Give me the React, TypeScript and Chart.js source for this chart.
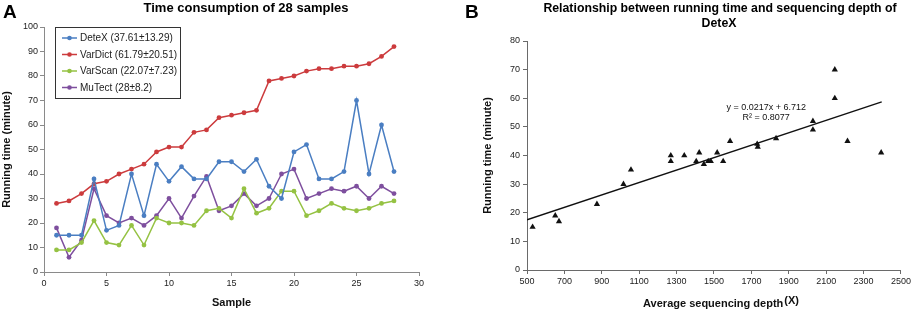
import React, { useEffect, useRef } from "react";
import { Chart, registerables } from "chart.js";
Chart.register(...registerables);

const FONT = '"Liberation Sans", Arial, Helvetica, sans-serif';

// ---- Panel A data ----
const samples = [1, 2, 3, 4, 5, 6, 7, 8, 9, 10, 11, 12, 13, 14, 15, 16, 17, 18, 19, 20, 21, 22, 23, 24, 25, 26, 27, 28];
const detex = [15, 15, 15, 38, 17, 19, 40, 23, 44, 37, 43, 38, 38, 45, 45, 41, 46, 35, 30, 49, 52, 38, 38, 41, 70, 40, 60, 41];
const vardict = [28, 29, 32, 36, 37, 40, 42, 44, 49, 51, 51, 57, 58, 63, 64, 65, 66, 78, 79, 80, 82, 83, 83, 84, 84, 85, 88, 92];
const varscan = [9, 9, 12, 21, 12, 11, 19, 11, 22, 20, 20, 19, 25, 26, 22, 34, 24, 26, 33, 33, 23, 25, 28, 26, 25, 26, 28, 29];
const mutect = [18, 6, 13, 34, 23, 20, 22, 19, 23, 30, 22, 31, 39, 25, 27, 32, 27, 30, 40, 42, 30, 32, 34, 33, 35, 30, 35, 32];
const seriesLabels = ["DeteX (37.61±13.29)", "VarDict (61.79±20.51)", "VarScan (22.07±7.23)", "MuTect (28±8.2)"];
const seriesColors = ["#4A7EC2", "#CC3B3D", "#95C243", "#7E4F9E"];
const titleA = "Time consumption of 28 samples";

// ---- Panel B data ----
const depth = [530, 651, 671, 874, 1016, 1056, 1269, 1269, 1341, 1405, 1421, 1446, 1469, 1483, 1517, 1549, 1586, 1731, 1734, 1832, 2029, 2029, 2146, 2146, 2214, 2394];
const depthTime = [15, 19, 17, 23, 30, 35, 40, 38, 40, 38, 41, 37, 38, 38, 41, 38, 45, 44, 43, 46, 52, 49, 70, 60, 45, 41];
const slope = 0.0217;
const intercept = 6.712;
const fitRange = [500, 2397];
const eqText = "y = 0.0217x + 6.712";
const r2Text = "R² = 0.8077";
const titleB = ["Relationship between running time and sequencing depth of", "DeteX"];

const AXIS_A = "#8a8a8a";
const AXIS_B = "#6a6a6a";
const TICK_COLOR = "#222";
const plainTick = (v: any) => String(v);

const leftDecor = {
  id: "leftDecor",
  afterDraw(chart: any) {
    const ctx = chart.ctx;
    ctx.save();
    ctx.fillStyle = "#000";
    ctx.textBaseline = "alphabetic";
    ctx.textAlign = "left";
    ctx.font = `bold 19px ${FONT}`;
    ctx.fillText("A", 3, 18);
    ctx.font = `bold 13px ${FONT}`;
    ctx.textAlign = "center";
    ctx.fillText(titleA, 246, 12);
    // legend box
    const bx = 55.5, by = 27.5, bw = 125, bh = 71;
    ctx.fillStyle = "#fff";
    ctx.fillRect(bx, by, bw, bh);
    ctx.strokeStyle = "#333";
    ctx.lineWidth = 1;
    ctx.strokeRect(bx, by, bw, bh);
    ctx.font = `10px ${FONT}`;
    ctx.textAlign = "left";
    ctx.textBaseline = "middle";
    for (let i = 0; i < seriesLabels.length; i++) {
      const y = 38 + i * 16.5;
      ctx.strokeStyle = seriesColors[i];
      ctx.lineWidth = 1.5;
      ctx.beginPath();
      ctx.moveTo(62, y);
      ctx.lineTo(77, y);
      ctx.stroke();
      ctx.fillStyle = seriesColors[i];
      ctx.beginPath();
      ctx.arc(69.5, y, 2.3, 0, Math.PI * 2);
      ctx.fill();
      ctx.fillStyle = "#222";
      ctx.fillText(seriesLabels[i], 80, y + 0.5);
    }
    ctx.restore();
  },
};

const rightDecor = {
  id: "rightDecor",
  afterDraw(chart: any) {
    const ctx = chart.ctx;
    const xs = chart.scales.x;
    const ys = chart.scales.y;
    ctx.save();
    ctx.fillStyle = "#000";
    ctx.textBaseline = "alphabetic";
    ctx.textAlign = "left";
    ctx.font = `bold 19px ${FONT}`;
    ctx.fillText("B", 5, 18);
    ctx.font = `bold 12.3px ${FONT}`;
    ctx.textAlign = "center";
    ctx.fillText(titleB[0], 260, 12);
    ctx.fillText(titleB[1], 259, 27);
    // equation
    ctx.font = `9px ${FONT}`;
    ctx.fillStyle = "#111";
    ctx.textBaseline = "middle";
    const ex = xs.getPixelForValue(1779);
    ctx.fillText(eqText, ex, ys.getPixelForValue(56.9));
    ctx.fillText(r2Text, ex, ys.getPixelForValue(53.1));
    // x-axis title with raised (X)
    ctx.font = `bold 11px ${FONT}`;
    ctx.textBaseline = "alphabetic";
    ctx.textAlign = "left";
    const main = "Average sequencing depth";
    const sup = "(X)";
    const w1 = ctx.measureText(main).width;
    const w2 = ctx.measureText(sup).width + 1;
    const start = 261 - (w1 + w2) / 2;
    ctx.fillStyle = "#111";
    ctx.fillText(main, start, 307);
    ctx.fillText(sup, start + w1 + 1, 304);
    ctx.restore();
  },
};

export default function App() {
  const leftRef = useRef<HTMLCanvasElement>(null);
  const rightRef = useRef<HTMLCanvasElement>(null);

  useEffect(() => {
    const series = [detex, vardict, varscan, mutect];
    const left = new Chart(leftRef.current as HTMLCanvasElement, {
      type: "line",
      data: {
        datasets: series.map((vals, i) => ({
          label: seriesLabels[i],
          data: samples.map((s, j) => ({ x: s, y: vals[j] })),
          borderColor: seriesColors[i],
          backgroundColor: seriesColors[i],
          borderWidth: 1.5,
          pointRadius: 2.4,
          pointBorderWidth: 0,
          pointHoverRadius: 2.4,
          tension: 0,
        })),
      },
      options: {
        responsive: false,
        animation: false,
        devicePixelRatio: 1,
        layout: { padding: { top: 27, right: 41, left: 0, bottom: 0 } },
        plugins: { legend: { display: false }, tooltip: { enabled: false }, title: { display: false } },
        scales: {
          x: {
            type: "linear",
            min: 0,
            max: 30,
            ticks: { stepSize: 5, color: TICK_COLOR, font: { family: FONT, size: 9 }, padding: 2, callback: plainTick },
            grid: { drawOnChartArea: false, drawTicks: true, tickLength: 4, color: AXIS_A, tickColor: AXIS_A },
            border: { color: AXIS_A, width: 1 },
            title: { display: true, text: "Sample", color: "#111", font: { family: FONT, size: 11, weight: "bold" }, padding: { top: 0, bottom: 1.5 } },
            afterFit: (s: any) => { s.height = 39; },
          },
          y: {
            min: 0,
            max: 100,
            ticks: { stepSize: 10, color: TICK_COLOR, font: { family: FONT, size: 9 }, padding: 2, callback: plainTick },
            grid: { drawOnChartArea: false, drawTicks: true, tickLength: 4, color: AXIS_A, tickColor: AXIS_A },
            border: { color: AXIS_A, width: 1 },
            title: { display: true, text: "Running time (minute)", color: "#111", font: { family: FONT, size: 11, weight: "bold" }, padding: { top: 0, bottom: 0 } },
            afterFit: (s: any) => { s.width = 44; },
          },
        },
      } as any,
      plugins: [leftDecor],
    });

    const right = new Chart(rightRef.current as HTMLCanvasElement, {
      type: "scatter",
      data: {
        datasets: [
          {
            label: "DeteX",
            data: depth.map((d, i) => ({ x: d, y: depthTime[i] })),
            pointStyle: "triangle",
            pointRadius: 3.6,
            pointHoverRadius: 3.6,
            backgroundColor: "#111",
            borderColor: "#111",
            borderWidth: 0,
          },
          {
            type: "line",
            label: "fit",
            data: fitRange.map((x) => ({ x, y: slope * x + intercept })),
            borderColor: "#111",
            borderWidth: 1.5,
            pointRadius: 0,
            showLine: true,
            fill: false,
          },
        ],
      },
      options: {
        responsive: false,
        animation: false,
        devicePixelRatio: 1,
        layout: { padding: { top: 41, right: 12, left: 0, bottom: 0 } },
        plugins: { legend: { display: false }, tooltip: { enabled: false }, title: { display: false } },
        scales: {
          x: {
            type: "linear",
            min: 500,
            max: 2500,
            ticks: { stepSize: 200, color: TICK_COLOR, font: { family: FONT, size: 9 }, padding: 2, callback: plainTick },
            grid: { drawOnChartArea: false, drawTicks: true, tickLength: 4, color: AXIS_B, tickColor: AXIS_B },
            border: { color: AXIS_B, width: 1 },
            title: { display: false },
            afterFit: (s: any) => { s.height = 41; },
          },
          y: {
            min: 0,
            max: 80,
            ticks: { stepSize: 10, color: TICK_COLOR, font: { family: FONT, size: 9 }, padding: 3, callback: plainTick },
            grid: { drawOnChartArea: false, drawTicks: true, tickLength: 4, color: AXIS_B, tickColor: AXIS_B },
            border: { color: AXIS_B, width: 1 },
            title: { display: true, text: "Running time (minute)", color: "#111", font: { family: FONT, size: 11, weight: "bold" }, padding: { top: 21, bottom: 0 } },
            afterFit: (s: any) => { s.width = 67; },
          },
        },
      } as any,
      plugins: [rightDecor],
    });

    return () => {
      left.destroy();
      right.destroy();
    };
  }, []);

  return (
    <div style={{ position: "absolute", left: 0, top: 0, width: 913, height: 311, background: "#fff", overflow: "hidden" }}>
      <canvas ref={leftRef} width={460} height={311} style={{ position: "absolute", left: 0, top: 0, width: 460, height: 311 }} />
      <canvas ref={rightRef} width={453} height={311} style={{ position: "absolute", left: 460, top: 0, width: 453, height: 311 }} />
    </div>
  );
}
